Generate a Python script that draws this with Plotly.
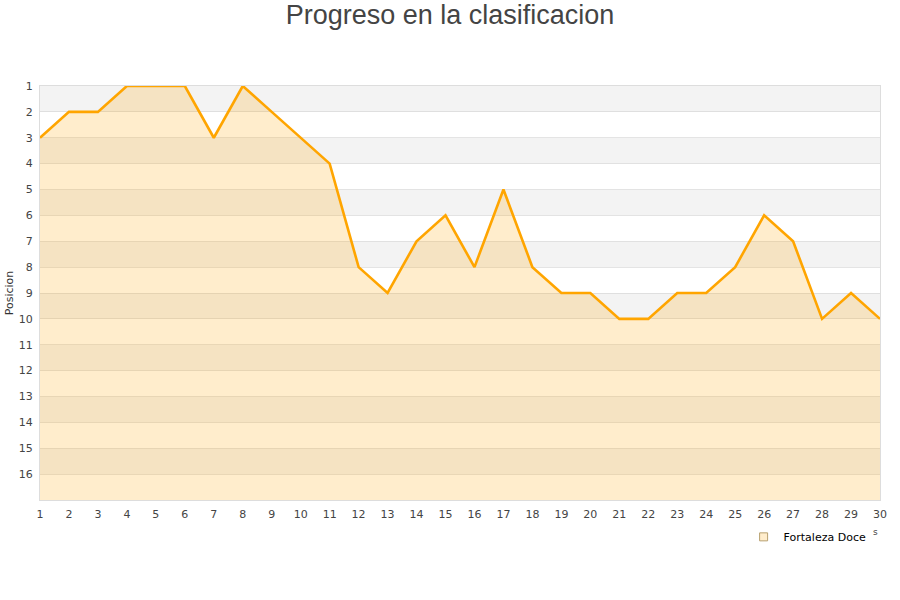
import plotly.graph_objects as go

jornadas = list(range(1, 31))
posiciones = [3, 2, 2, 1, 1, 1, 3, 1, 2, 3, 4, 8, 9, 7, 6, 8, 5, 8, 9, 9,
              10, 10, 9, 9, 8, 6, 7, 10, 9, 10]
equipo = "Fortaleza Doce"
y_ticks = list(range(1, 17))
fondo_y = 17

fig = go.Figure()

# alternating grey bands behind the plot
for k in range(1, 16, 2):
    fig.add_shape(type="rect", xref="paper", yref="y", x0=0, x1=1, y0=k, y1=k + 1,
                  fillcolor="#f3f3f3", line=dict(width=0), layer="below")

# baseline for the fill
fig.add_trace(go.Scatter(x=jornadas, y=[fondo_y] * len(jornadas), mode="lines",
                         line=dict(width=0), showlegend=False, hoverinfo="skip"))
fig.add_trace(go.Scatter(x=jornadas, y=posiciones, mode="lines", fill="tonexty",
                         fillcolor="rgba(255,165,0,0.2)",
                         line=dict(color="#ffa500", width=2.6),
                         name=equipo, showlegend=False))
# legend entry only
fig.add_trace(go.Scatter(x=[None], y=[None], mode="markers", name=equipo,
                         marker=dict(symbol="square", size=8, color="#ffedcc",
                                     line=dict(color="#b8a070", width=1))))

fig.add_annotation(text="s", x=1.0, xref="paper", y=-0.095, yref="paper",
                   showarrow=False, font=dict(size=9, color="#444"))

fig.update_layout(
    width=900, height=600,
    margin=dict(l=40, r=20, t=86, b=100),
    paper_bgcolor="white", plot_bgcolor="white",
    font=dict(family="DejaVu Sans", size=11, color="#444"),
    title=dict(text="Progreso en la clasificacion", x=0.5, xanchor="center",
               y=0.975, yanchor="middle",
               font=dict(family="Liberation Sans, Arial", size=27, color="#444")),
    showlegend=True,
    legend=dict(x=0.99, xanchor="right", y=-0.089, yanchor="middle",
                itemwidth=30,
                font=dict(size=11, color="#000"), bgcolor="rgba(0,0,0,0)"),
    xaxis=dict(range=[1, 30], tickmode="array", tickvals=jornadas, showgrid=False,
               zeroline=False, showline=True, linecolor="#dddddd", mirror=True,
               ticks="", ticklabelstandoff=4, automargin=False,
               tickfont=dict(size=11, color="#444")),
    yaxis=dict(range=[fondo_y, 1], tickmode="array", tickvals=y_ticks,
               showgrid=True, gridcolor="rgba(200,200,200,0.45)", zeroline=False,
               showline=True, linecolor="#dddddd", mirror=True, ticks="",
               ticklabelstandoff=4, automargin=False,
               title=dict(text="Posicion", font=dict(size=11, color="#333"), standoff=2),
               tickfont=dict(size=11, color="#444")),
)

fig.write_html("out.html", config={"displayModeBar": False},
               post_script="document.body.style.margin='0';")
